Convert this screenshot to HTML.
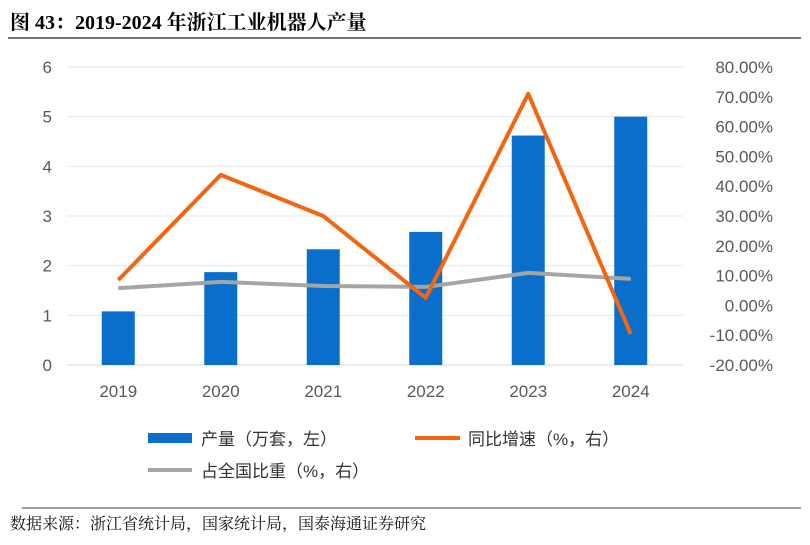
<!DOCTYPE html>
<html><head><meta charset="utf-8"><style>
body{margin:0;background:#fff;width:810px;height:540px;overflow:hidden}
svg text{font-family:"Liberation Sans","Noto Sans CJK SC",sans-serif}
</style></head><body>
<svg width="810" height="540" xmlns="http://www.w3.org/2000/svg" id="chart">
<text x="10" y="29" font-size="20" font-weight="bold" style="font-family:'Liberation Serif','Noto Serif CJK SC',serif">图 43：2019-2024 年浙江工业机器人产量</text>
<line x1="8" y1="38" x2="801" y2="38" stroke="#222" stroke-width="1.3"/>
<g id="grid"></g><g id="bars"></g><g id="lines"></g><g id="axes"></g>
<g>
<rect x="148" y="433" width="44" height="10" fill="#0a6fcb"/>
<text x="201" y="445" font-size="17" fill="#333">产量（万套，左）</text>
<line x1="415" y1="438" x2="460" y2="438" stroke="#f4650f" stroke-width="4"/>
<text x="468" y="445" font-size="17" fill="#333">同比增速（%，右）</text>
<line x1="148" y1="470" x2="192" y2="470" stroke="#a5a5a5" stroke-width="4"/>
<text x="201" y="477" font-size="17" fill="#333">占全国比重（%，右）</text>
</g>
<line x1="22" y1="508" x2="801" y2="508" stroke="#666" stroke-width="1.3"/>
<text x="10" y="529" font-size="16" style="font-family:'Liberation Serif','Noto Serif CJK SC',serif" fill="#111">数据来源：浙江省统计局，国家统计局，国泰海通证券研究</text>
</svg>
<script>
const categories=["2019","2020","2021","2022","2023","2024"];
const output=[1.08,1.87,2.33,2.68,4.62,5.0];
const growth=[8.5,43.8,30,2.5,71,-9.6];
const share=[5.8,7.9,6.5,6.2,10.9,8.9];
const leftTicks=[0,1,2,3,4,5,6];
const rightTicks=[80,70,60,50,40,30,20,10,0,-10,-20];
const NS="http://www.w3.org/2000/svg";
const x0=67,xStep=102.5,yTop=67,yBot=365;
const xPos=i=>x0+xStep*(i+0.5);
const yL=v=>yBot-(v/6)*(yBot-yTop);
const yR=v=>yBot-((v+20)/100)*(yBot-yTop);
function mk(tag,attrs,parent){const e=document.createElementNS(NS,tag);for(const k in attrs)e.setAttribute(k,attrs[k]);document.getElementById(parent).appendChild(e);return e;}
leftTicks.forEach(t=>{
 const g=mk("line",{x1:67,x2:683,y1:yL(t),y2:yL(t),stroke:t===0?"#d9d9d9":"#e6e6e6","stroke-width":1},"grid");
 
 
 const l=mk("text",{x:52,y:yL(t)+6,"font-size":17,fill:"#595959","text-anchor":"end"},"axes");
 l.textContent=t;
 
 
});
rightTicks.forEach(t=>{
 const l=mk("text",{x:773,y:yR(t)+6,"font-size":17,fill:"#595959","text-anchor":"end"},"axes");
 l.textContent=t.toFixed(2)+"%";
 
 
});
categories.forEach((c,i)=>{
 const l=mk("text",{x:xPos(i),y:397,"font-size":17,fill:"#595959","text-anchor":"middle"},"axes");
 l.textContent=c;
 
 
 const b=mk("rect",{x:xPos(i)-16.5,y:yL(output[i]),width:33,height:yBot-yL(output[i]),fill:"#0a6fcb"},"bars");
 
 
});
const s=mk("polyline",{points:share.map((v,i)=>xPos(i)+","+yR(v)).join(" "),fill:"none",stroke:"#a5a5a5","stroke-width":4,"stroke-linejoin":"round"},"lines");


const g=mk("polyline",{points:growth.map((v,i)=>xPos(i)+","+yR(v)).join(" "),fill:"none",stroke:"#f4650f","stroke-width":4,"stroke-linejoin":"round"},"lines");


</script>
</body></html>
